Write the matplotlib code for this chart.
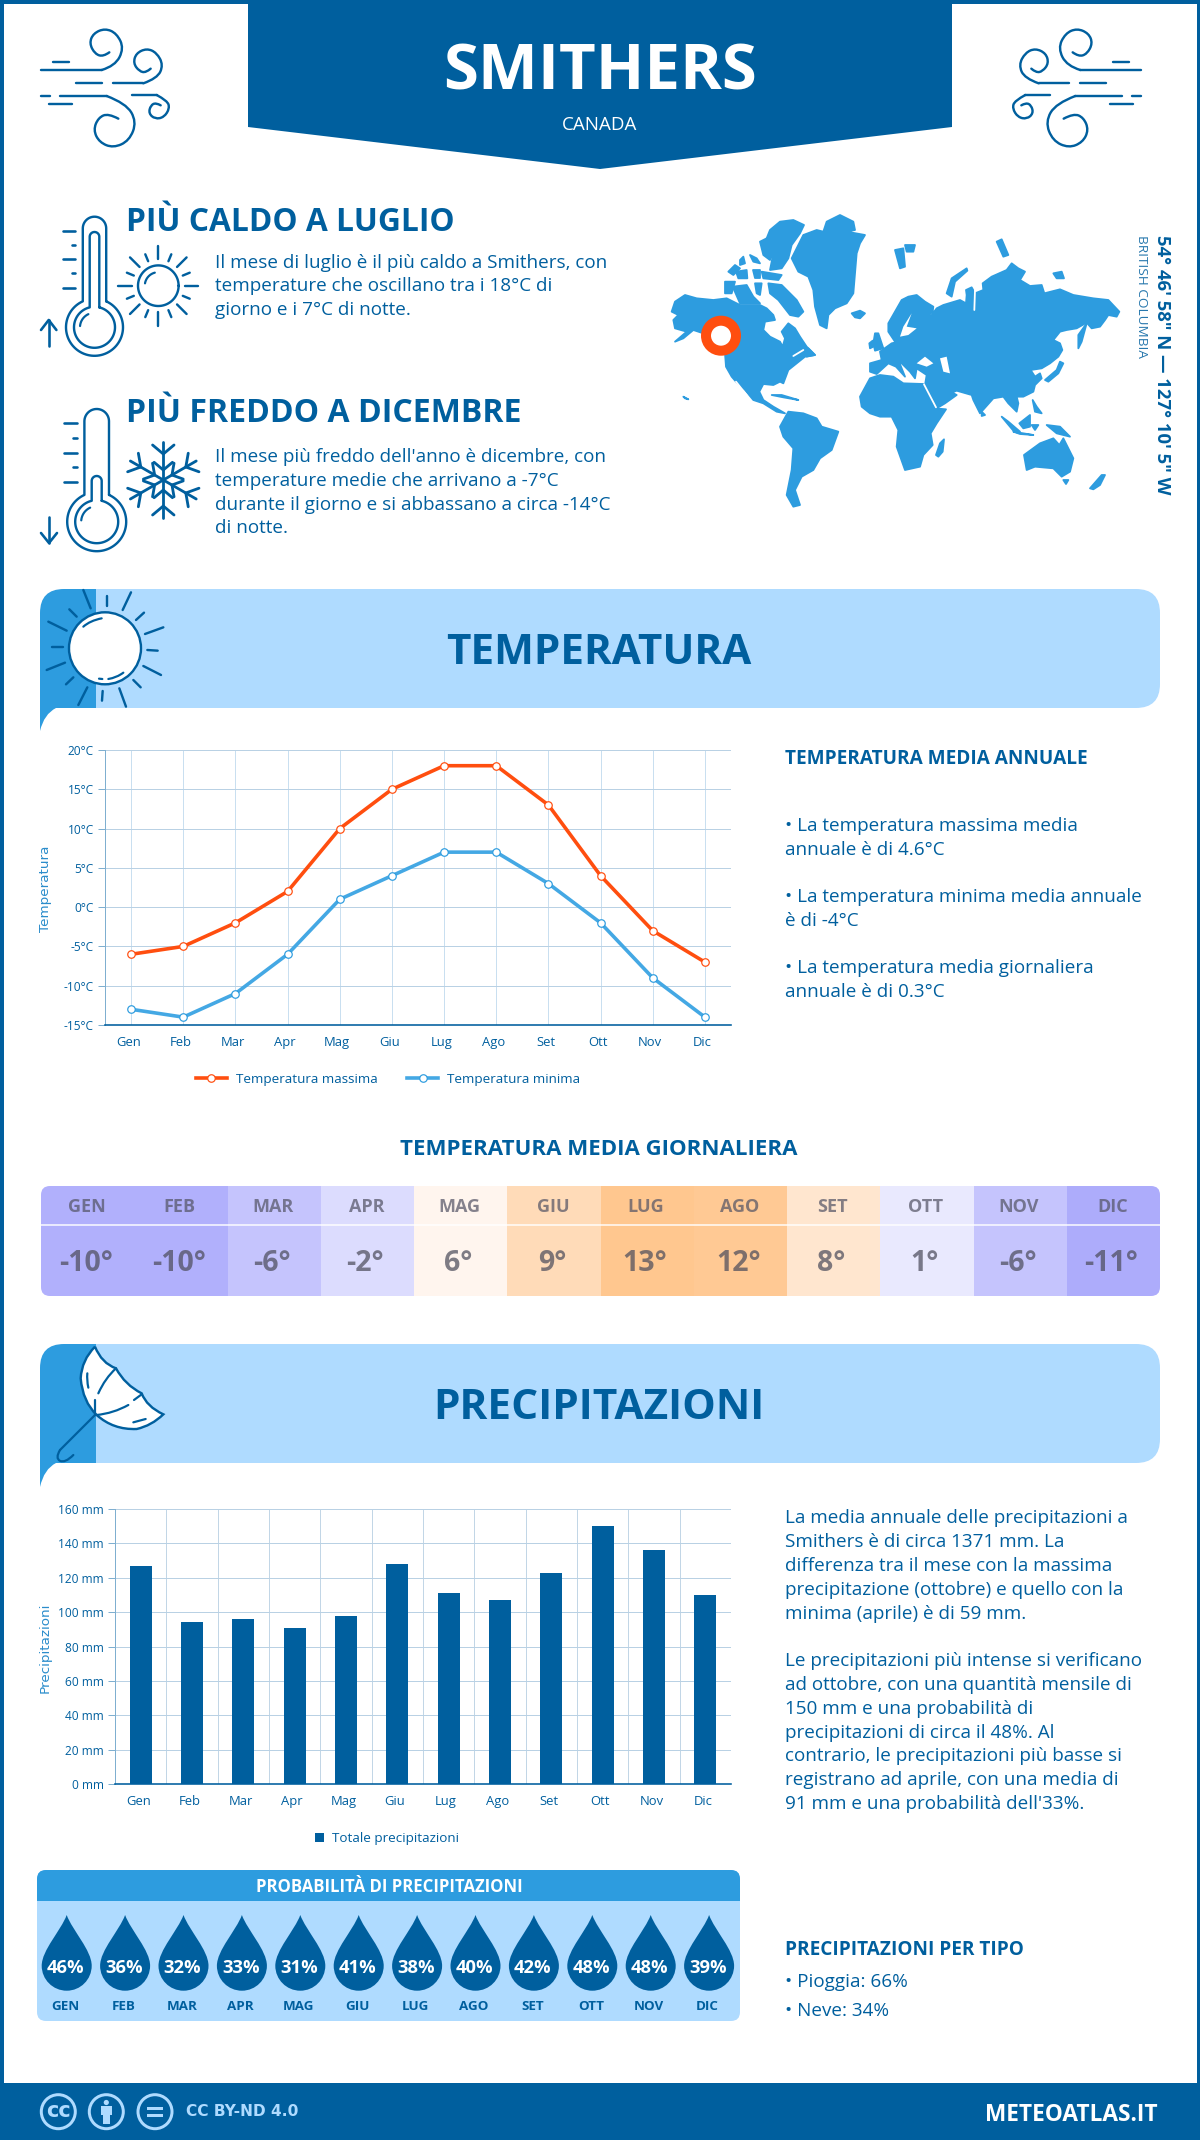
import numpy as np
import matplotlib
matplotlib.use('Agg')
import matplotlib.pyplot as plt
from matplotlib.patches import Rectangle, Circle, Polygon, FancyBboxPatch, PathPatch
from matplotlib.path import Path
from matplotlib.transforms import ScaledTranslation

plt.rcParams['font.family'] = ['Open Sans', 'DejaVu Sans']

# ---- data ----
months = ['Gen', 'Feb', 'Mar', 'Apr', 'Mag', 'Giu', 'Lug', 'Ago', 'Set', 'Ott', 'Nov', 'Dic']
months_up = ['GEN', 'FEB', 'MAR', 'APR', 'MAG', 'GIU', 'LUG', 'AGO', 'SET', 'OTT', 'NOV', 'DIC']
temp_max = [-6, -5, -2, 2, 10, 15, 18, 18, 13, 4, -3, -7]
temp_min = [-13, -14, -11, -6, 1, 4, 7, 7, 3, -2, -9, -14]
temp_avg = [-10, -10, -6, -2, 6, 9, 13, 12, 8, 1, -6, -11]
temp_cell_colors = ['#B1B0FC', '#B1B0FC', '#C5C4FD', '#DCDCFE', '#FFF5EE', '#FFDBB8',
                    '#FFC78F', '#FFC994', '#FFE6CF', '#E9E9FE', '#C5C4FD', '#ADACFB']
precip = [127, 94, 96, 91, 98, 128, 111, 107, 123, 150, 136, 110]
precip_prob = [46, 36, 32, 33, 31, 41, 38, 40, 42, 48, 48, 39]
temp_ticks = [-15, -10, -5, 0, 5, 10, 15, 20]
precip_ticks = [0, 20, 40, 60, 80, 100, 120, 140, 160]

DARK = '#005F9E'
MID = '#2D9CDF'
LIGHT = '#AFDBFF'
ORANGE = '#FF4E0F'
W, H = 1200, 2140
PX = 0.72
BODY = 13.55
HEAD = 13.7

fig = plt.figure(figsize=(12, 21.4), dpi=100, facecolor='white')
bg = fig.add_axes([0, 0, 1, 1], zorder=0)
bg.set_xlim(0, W)
bg.set_ylim(H, 0)
bg.axis('off')


def line(pts, lw=2.4, c=DARK, ax=bg, z=5):
    pts = np.asarray(pts, float)
    ax.plot(pts[:, 0], pts[:, 1], color=c, lw=lw * PX, solid_capstyle='round',
            solid_joinstyle='round', zorder=z)


def smooth(pts, lw=2.4, c=DARK, z=5, fill=None):
    pts = np.asarray(pts, float)
    verts = [pts[0]]
    codes = [Path.MOVETO]
    for i in range(1, len(pts) - 1):
        mid = (pts[i] + pts[i + 1]) / 2 if i < len(pts) - 2 else pts[i + 1]
        verts += [pts[i], mid]
        codes += [Path.CURVE3, Path.CURVE3]
    bg.add_patch(PathPatch(Path(verts, codes), fc=fill or 'none', ec=c, lw=lw * PX,
                           capstyle='round', joinstyle='round', zorder=z))


def T(x, y, s, size, weight='normal', c=DARK, ha='left', va='baseline', **kw):
    return bg.text(x, y, s, fontsize=size, fontweight=weight, color=c, ha=ha, va=va, zorder=8, **kw)


# ---- frame + header ----
bg.add_patch(Rectangle((0, 0), W, H, fc='none', ec=DARK, lw=7 * PX, zorder=1))
bg.add_patch(Polygon([(248, 0), (952, 0), (952, 127), (600, 169), (248, 127)], fc=DARK, ec='none', zorder=2))
T(600, 89, 'SMITHERS', 45.7, 'bold', 'white', ha='center')
T(600, 130, 'CANADA', 13.5, 'normal', 'white', ha='center')

# wind icons
wind_curves = [
    [(62, 180), (245, 180), (285, 168), (312, 115), (290, 70), (255, 55), (220, 70), (208, 100), (225, 132), (250, 140), (268, 127)],
    [(278, 220), (370, 220), (412, 205), (430, 165), (410, 128), (380, 115), (348, 130), (340, 160), (358, 184), (378, 188), (392, 176)],
    [(120, 258), (260, 258), (318, 280), (350, 335), (328, 392), (280, 414), (238, 397), (220, 360), (235, 323), (265, 310), (295, 326)],
    [(337, 255), (410, 255), (442, 272), (449, 295), (432, 322), (405, 327), (386, 310), (392, 286), (408, 278), (422, 286)],
]
wind_dashes = [[(98, 155), (148, 155)], [(168, 220), (245, 220)], [(62, 258), (90, 258)], [(86, 283), (155, 283)]]
for mirror in (False, True):
    def conv(p):
        x = 20 + p[0] / 3
        return ((1182 - x) if mirror else x, 10 + p[1] / 3)
    for cv in wind_curves:
        line([conv(p) for p in cv[:2]])
        smooth([conv(p) for p in cv[1:]])
    for d in wind_dashes:
        line([conv(p) for p in d])


# ---- thermometers ----
def thermometer(cx, top, cy, R, hw, top_i, r_i, hw_i, ticks, tx0, tx1):
    for (h, t, r) in ((hw, top, R), (hw_i, top_i, r_i)):
        a = np.arcsin(h / r)
        arc = np.linspace(-np.pi / 2 + a, 1.5 * np.pi - a, 80)
        bulb = np.c_[cx + r * np.cos(arc), cy + r * np.sin(arc)]
        cap = np.linspace(np.pi, 2 * np.pi, 30)
        tube = np.c_[cx + h * np.cos(cap), t + h + h * np.sin(cap)]
        line(np.r_[bulb, tube, bulb[:1]], 2.4)
    b = np.linspace(np.radians(185), np.radians(245), 20)
    rr = r_i - 6
    line(np.c_[cx + rr * np.cos(b), cy + rr * np.sin(b)], 2.2)
    for i, y in enumerate(ticks):
        line([(tx0 if i % 2 == 0 else tx0 + 9, y), (tx1, y)], 2.6)


thermometer(94.5, 216.7, 327.3, 28.5, 11.7, 232, 20.5, 4.8, [231, 245, 259.3, 273.3, 287.7], 63, 75)
thermometer(96.7, 409, 521.7, 29.5, 12.3, 476, 21.5, 5, [423.3, 438, 452.7, 467.3, 482.3], 63.5, 76.5)
line([(48.7, 346), (48.7, 320)], 2.6); line([(41, 330), (48.7, 320), (56.4, 330)], 2.6)
line([(49, 517), (49, 543)], 2.6); line([(41, 533), (49, 543), (57, 533)], 2.6)

# small sun
sx, sy = 158.3, 285.7
ang = np.linspace(0, 2 * np.pi, 90)
line(np.c_[sx + 20.3 * np.cos(ang), sy + 20.3 * np.sin(ang)], 2.4)
b = np.linspace(np.radians(190), np.radians(255), 20)
line(np.c_[sx + 13.5 * np.cos(b), sy + 13.5 * np.sin(b)], 2.2)
for k in range(16):
    a = k * np.pi / 8
    r0, r1 = (26.5, 40) if k % 2 == 0 else (26.5, 34)
    line([(sx + r0 * np.cos(a), sy + r0 * np.sin(a)), (sx + r1 * np.cos(a), sy + r1 * np.sin(a))], 2.4)

# snowflake
fx, fy = 163.3, 480
for k in range(6):
    a = np.pi / 2 + k * np.pi / 3
    u = np.array([np.cos(a), np.sin(a)])
    c0 = np.array([fx, fy])
    line([c0, c0 + 38 * u], 2.8)
    for rv, ln in ((26, 14), (10, 12)):
        base = c0 + rv * u
        for s in (-1, 1):
            v = np.array([np.cos(a + s * np.radians(50)), np.sin(a + s * np.radians(50))])
            line([base, base + ln * v], 2.8)

T(126, 231, 'PIÙ CALDO A LUGLIO', 22.9, 'bold')
T(126, 421.5, 'PIÙ FREDDO A DICEMBRE', 23, 'bold')
hot_lines = ['Il mese di luglio è il più caldo a Smithers, con',
             'temperature che oscillano tra i 18°C di',
             'giorno e i 7°C di notte.']
cold_lines = ['Il mese più freddo dell\'anno è dicembre, con',
              'temperature medie che arrivano a -7°C',
              'durante il giorno e si abbassano a circa -14°C',
              'di notte.']
for y, s in zip([268, 291, 315], hot_lines):
    T(215, y, s, BODY)
for y, s in zip([462.5, 486, 510, 533], cold_lines):
    T(215, y, s, BODY)


# ---- world map (hand traced outline) ----
def m1(p):
    return [(660 + x / 3, 200 + y / 3) for x, y in p]


def m2(p):
    return [(860 + x / 3, 200 + y / 3) for x, y in p]


west = [
    [(35,335),(45,305),(75,285),(110,295),(160,300),(200,295),(240,315),(300,315),(320,325),(340,345),(345,360),(315,365),(310,390),(330,410),(360,425),(368,440),(375,415),(365,395),(385,370),(405,385),(420,410),(440,440),(465,465),(435,470),(410,490),(385,510),(370,550),(360,545),(340,555),(310,552),(298,575),(310,600),(340,620),(375,640),(350,635),(310,610),(280,600),(255,570),(228,545),(215,530),(198,500),(195,460),(130,400),(100,390),(70,415),(45,425),(80,395),(45,385),(40,360),(55,345)],
    [(360,680),(385,635),(430,640),(470,655),(485,680),(535,695),(515,750),(480,775),(460,810),(425,830),(405,870),(420,915),(400,920),(380,885),(395,810),(400,745),(370,710)],
    [(395,175),(430,105),(470,90),(490,95),(500,65),(540,45),(580,65),(585,90),(560,95),(615,105),(600,130),(590,160),(585,220),(580,280),(560,310),(525,325),(505,345),(500,385),(480,375),(465,320),(460,270),(445,230),(415,215)],
    [(320,115),(330,90),(360,65),(400,60),(432,75),(420,100),(395,135),(385,175),(365,205),(330,210),(340,160),(325,135)],
    [(325,250),(365,255),(410,300),(430,335),(415,350),(390,345),(355,300),(330,280)],
    [(218,260),(260,255),(280,290),(300,310),(240,310)],
    [(195,245),(225,245),(215,280),(195,280)],
    [(205,215),(225,195),(240,205),(220,225)],
    [(228,215),(260,210),(262,235),(235,235)],
    [(280,210),(300,210),(300,235),(285,235)],
    [(305,215),(365,225),(355,240),(310,235)],
    [(300,125),(320,115),(340,160),(330,180),(310,165)],
    [(240,180),(250,170),(255,190),(240,195)],
    [(270,165),(290,175),(300,190),(280,185)],
    [(285,250),(305,250),(300,285),(290,280)],
    [(425,455),(445,445),(465,465),(440,470)],
    [(335,585),(365,585),(415,600),(370,592)],
    [(575,340),(600,332),(615,340),(600,355),(585,352)],
    [(70,590),(85,598),(75,595)],
]
east = [
    [(30,490),(65,480),(60,455),(95,430),(115,425),(130,405),(170,390),(145,385),(135,420),(105,425),(85,395),(85,370),(125,300),(145,290),(170,285),(195,305),(220,320),(218,335),(200,348),(215,345),(230,325),(250,315),(300,300),(318,310),(320,285),(318,270),(335,262),(345,280),(370,270),(368,250),(395,230),(440,210),(455,190),(475,205),(495,215),(480,240),(510,258),(545,255),(553,280),(600,268),(640,285),(700,295),(745,300),(778,335),(770,350),(745,345),(735,360),(720,380),(695,385),(680,368),(650,385),(620,390),(600,395),(580,420),(600,430),(607,450),(595,470),(570,490),(545,505),(512,510),(525,530),(540,520),(545,535),(525,555),(520,575),(490,590),(470,590),(475,610),(470,635),(445,610),(430,590),(400,595),(360,640),(340,600),(335,585),(290,572),(270,580),(250,560),(245,553),(262,570),(290,585),(255,610),(230,625),(195,555),(200,525),(170,505),(165,535),(150,515),(115,480),(135,530),(108,500),(85,490),(50,522),(30,515)],
    [(0,590),(30,535),(60,525),(100,530),(130,550),(190,552),(225,625),(258,628),(230,670),(212,700),(218,735),(190,765),(180,800),(135,810),(110,740),(115,690),(95,650),(60,650),(30,640),(5,620)],
    [(492,765),(540,730),(580,715),(598,735),(610,715),(640,775),(630,815),(605,830),(580,805),(525,800),(500,810)],
    [(610,840),(625,840),(618,852)],
    [(690,865),(725,825),(735,825),(720,855),(700,868)],
    [(228,765),(240,730),(252,718),(248,755),(235,770)],
    [(45,400),(55,400),(70,445),(45,452),(40,430)],
    [(28,430),(38,422),(40,440),(30,445)],
    [(105,150),(130,145),(135,200),(120,205)],
    [(135,135),(165,135),(160,155),(140,155)],
    [(260,280),(275,235),(320,205),(322,212),(285,245),(275,290)],
    [(410,125),(425,118),(445,165),(430,170)],
    [(580,220),(605,215),(612,235),(590,235)],
    [(425,650),(445,665),(480,695),(460,692)],
    [(460,695),(520,705),(480,702)],
    [(478,670),(510,645),(510,680),(490,685)],
    [(518,600),(530,620),(545,640),(525,635)],
    [(515,675),(535,675),(525,690)],
    [(560,675),(600,680),(630,710),(590,700)],
    [(365,635),(375,645),(365,648)],
    [(555,540),(590,510),(600,485),(610,490),(595,520),(565,545)],
    [(655,405),(680,370),(665,425),(655,445)],
]
white_seas = [
    [(170,490),(195,470),(220,490),(200,500)],
    [(240,475),(260,470),(270,520),(250,515)],
    [(155,340),(130,380),(120,410),(145,405),(170,385),(140,380)],
]
white_lines_east = [[(192,553),(228,622)], [(345,270),(343,330)]]
white_lines_west = [[(228,545),(262,588)], [(400,468),(430,450)]]
for p in west:
    bg.add_patch(Polygon(m1(p), fc=MID, ec=MID, lw=1.3, joinstyle='round', zorder=3))
for p in east:
    bg.add_patch(Polygon(m2(p), fc=MID, ec=MID, lw=1.3, joinstyle='round', zorder=3))
for p in white_seas:
    bg.add_patch(Polygon(m2(p), fc='white', ec='none', zorder=3.2))
for p in white_lines_east:
    line(m2(p), 1.8, 'white', z=3.3)
for p in white_lines_west:
    line(m1(p), 1.8, 'white', z=3.3)
bg.add_patch(Circle((721, 335.7), 15, fc='white', ec=ORANGE, lw=10 * PX, zorder=4))

T(1162, 365, '54° 46\' 58" N — 127° 10\' 5" W', 13.3, 'bold', ha='center', va='center', rotation=-90)
T(1142, 296.7, 'BRITISH COLUMBIA', 9.7, 'normal', ha='center', va='center', rotation=-90, alpha=0.85)


# ---- section banners ----
def banner(y0, y1, yc, ybase, title, title_size):
    bg.add_patch(FancyBboxPatch((70, y0), 1090, y1 - y0, boxstyle='round,pad=0,rounding_size=24',
                                fc=LIGHT, ec='none', zorder=2))
    v = [(40, yc), (44, y1 + 6), (56, y1), (75, y1), (96, y1), (96, y0), (64, y0), (40, y0), (40, y0 + 24), (40, yc)]
    c = [Path.MOVETO, Path.CURVE3, Path.CURVE3, Path.LINETO, Path.LINETO, Path.LINETO, Path.LINETO,
         Path.CURVE3, Path.CURVE3, Path.CLOSEPOLY]
    bg.add_patch(PathPatch(Path(v, c), fc=MID, ec='none', zorder=2.5))
    T(599, ybase, title, title_size, 'bold', ha='center')


banner(589, 708, 731, 663.5, 'TEMPERATURA', 30.4)
banner(1344, 1463, 1487, 1419.4, 'PRECIPITAZIONI', 30.5)


def z7(p):
    return [(30 + x / 3, 580 + y / 3) for x, y in p]


bg.add_patch(Circle((105, 648.3), 36, fc='white', ec=DARK, lw=2.4 * PX, zorder=4))
sun_rays = [[(160,30),(182,85)],[(230,47),(230,78)],[(303,37),(278,90)],[(342,98),(318,120)],[(400,142),(345,162)],[(352,210),(383,212)],[(340,258),(393,285)],[(310,300),(332,322)],[(268,325),(288,380)],[(218,333),(216,362)],[(172,322),(145,375)],[(130,292),(108,313)],[(105,248),(50,270)],[(98,200),(67,200)],[(110,152),(55,125)],[(140,110),(118,88)]]
for r in sun_rays:
    line(z7(r), 2.4)
smooth(z7([(160,140),(180,122),(215,115)]), 2.2)
smooth(z7([(235,297),(260,293),(280,278)]), 2.2)
line(z7([(207,296),(217,297)]), 2.2)


def z8(p):
    return [(30 + x / 3, 1335 + y / 3) for x, y in p]


umb_pts = z8([(195,35),(215,85),(258,100),(285,150),(335,175),(350,215),(400,238),
              (365,272),(320,282),(250,285),(200,240),(158,200),(152,130),(155,75),(195,35)])
umb_codes = [Path.MOVETO] + [Path.CURVE3] * 14
bg.add_patch(PathPatch(Path(umb_pts, umb_codes), fc='white', ec=DARK, lw=2.4 * PX, zorder=4))
smooth(z8([(205,175),(225,130),(258,100)]), 2.2)
smooth(z8([(200,240),(250,235),(295,210)]), 2.2)
line(z8([(195,240),(195,195)]), 2.2)
line(z8([(312,195),(335,178)]), 2.2)
smooth(z8([(172,115),(170,135),(175,158)]), 2.2)
line(z8([(310,262),(347,252)]), 2.2)
line(z8([(195,240),(90,345)]), 2.2)
smooth(z8([(90,345),(75,370),(105,385),(130,360)]), 2.2)


# ---- temperature chart ----
def ax_px(x0, y0, x1, y1):
    a = fig.add_axes([x0 / W, 1 - y1 / H, (x1 - x0) / W, (y1 - y0) / H], zorder=3)
    a.patch.set_alpha(0)
    return a


GRID = '#B9D1E4'
ax1 = ax_px(105, 750, 731, 1025)
x = np.arange(12)
ax1.plot(x, temp_max, color=ORANGE, lw=3.6 * PX, marker='o', ms=7.5 * PX, mfc='white', mec=ORANGE, mew=1.2 * PX, label='Temperatura massima', zorder=4)
ax1.plot(x, temp_min, color='#44A8E4', lw=3.6 * PX, marker='o', ms=7.5 * PX, mfc='white', mec='#2D9CDF', mew=1.2 * PX, label='Temperatura minima', zorder=3)
ax1.set_xlim(-0.5, 11.5)
ax1.set_ylim(-15, 20)
ax1.set_xticks(x, months)
ax1.set_yticks(temp_ticks, [f'{v}°C' for v in temp_ticks])
ax1.set_axisbelow(True)
ax1.grid(axis='y', color=GRID, lw=1 * PX)
ax1.grid(axis='x', color='#C9DFF0', lw=1 * PX)
ax1.set_ylabel('Temperatura', fontsize=9.7, color='#2A8CCB', family='DejaVu Sans', va='center')
ax1.yaxis.set_label_coords(45 / W, 1 - 889 / H, transform=fig.transFigure)

ax2 = ax_px(115, 1509, 731, 1784)
ax2.bar(np.arange(12), precip, width=22 / 51.33, color=DARK, label='Totale precipitazioni', zorder=3)
ax2.set_xlim(-0.5, 11.5)
ax2.set_ylim(0, 160)
ax2.set_xticks(np.arange(12), months)
ax2.set_yticks(precip_ticks, [f'{v} mm' for v in precip_ticks])
ax2.set_xticks(np.arange(-0.5, 12, 1), minor=True)
ax2.set_axisbelow(True)
ax2.grid(axis='y', color=GRID, lw=1 * PX)
ax2.grid(axis='x', which='minor', color='#C2D6E6', lw=1 * PX)
ax2.grid(axis='x', which='major', visible=False)
ax2.tick_params(axis='x', which='minor', length=0)
ax2.set_ylabel('Precipitazioni', fontsize=9.7, color='#2A8CCB', family='DejaVu Sans', va='center')
ax2.yaxis.set_label_coords(45 / W, 1 - 1648 / H, transform=fig.transFigure)

for a in (ax1, ax2):
    for s in ('top', 'right'):
        a.spines[s].set_visible(False)
    a.spines['bottom'].set_color(DARK)
    a.spines['bottom'].set_linewidth(1.6 * PX)
    a.spines['left'].set_color('#7FAFD0')
    a.spines['left'].set_linewidth(1 * PX)
    a.tick_params(axis='y', length=5, width=1 * PX, color='#7FAFD0', labelsize=8.6, labelcolor=DARK, pad=3)
    a.tick_params(axis='x', which='major', length=0, labelsize=9.4, labelcolor=DARK, pad=8)
    off = ScaledTranslation(-2.5 / 100, 0, fig.dpi_scale_trans)
    for t in a.get_xticklabels():
        t.set_transform(t.get_transform() + off)

leg_kw = dict(frameon=False, loc='center', bbox_transform=fig.transFigure, fontsize=9.7, labelcolor=DARK)
ax1.legend(bbox_to_anchor=(388 / W, 1 - 1079.5 / H), ncol=2, handlelength=2.3, handletextpad=0.65,
           columnspacing=2.2, **leg_kw)
ax2.legend(bbox_to_anchor=(387 / W, 1 - 1838.5 / H), handlelength=0.6, handleheight=0.6, handletextpad=0.6, **leg_kw)

# ---- right column: temperature text ----
T(785, 764, 'TEMPERATURA MEDIA ANNUALE', HEAD, 'bold')
bullets = [(831, '• La temperatura massima media'), (855, 'annuale è di 4.6°C'),
           (902, '• La temperatura minima media annuale'), (926, 'è di -4°C'),
           (973, '• La temperatura media giornaliera'), (997, 'annuale è di 0.3°C')]
for y, s in bullets:
    T(785, y, s, BODY)

T(598.5, 1155, 'TEMPERATURA MEDIA GIORNALIERA', 16.0, 'bold', ha='center')

# ---- daily temperature table ----
clip = FancyBboxPatch((41, 1186), 1119, 110, boxstyle='round,pad=0,rounding_size=9', fc='none', ec='none', zorder=2)
bg.add_patch(clip)
cw = 1119 / 12
for i, (m, v, col) in enumerate(zip(months_up, temp_avg, temp_cell_colors)):
    r = Rectangle((41 + i * cw, 1186), cw + 0.5, 110, fc=col, ec='none', zorder=3)
    bg.add_patch(r)
    r.set_clip_path(clip)
    T(41 + (i + 0.5) * cw - 1, 1212, m, 13, 'bold', c='#555566', ha='center', alpha=0.72)
    T(41 + (i + 0.5) * cw - 2, 1271, f'{v}°', 20.5, 'bold', c='#4d4d5c', ha='center', alpha=0.72)
bg.plot([41, 1160], [1225, 1225], color='white', lw=1.6 * PX, zorder=4, alpha=0.9)

# ---- precipitation text ----
para = [(1523, 'La media annuale delle precipitazioni a'), (1547, 'Smithers è di circa 1371 mm. La'),
        (1571, 'differenza tra il mese con la massima'), (1595, 'precipitazione (ottobre) e quello con la'),
        (1619, 'minima (aprile) è di 59 mm.'),
        (1666, 'Le precipitazioni più intense si verificano'), (1690, 'ad ottobre, con una quantità mensile di'),
        (1714, '150 mm e una probabilità di'), (1738, 'precipitazioni di circa il 48%. Al'),
        (1761, 'contrario, le precipitazioni più basse si'), (1785, 'registrano ad aprile, con una media di'),
        (1809, '91 mm e una probabilità dell\'33%.')]
for y, s in para:
    T(785, y, s, BODY)

T(785, 1955, 'PRECIPITAZIONI PER TIPO', HEAD, 'bold')
T(785, 1987, '• Pioggia: 66%', BODY)
T(785, 2016, '• Neve: 34%', BODY)

# ---- probability panel ----
pclip = FancyBboxPatch((37, 1870), 703, 151, boxstyle='round,pad=0,rounding_size=9', fc=LIGHT, ec='none', zorder=2)
bg.add_patch(pclip)
hdr = Rectangle((37, 1870), 703, 31, fc=MID, ec='none', zorder=3)
bg.add_patch(hdr)
hdr.set_clip_path(pclip)
T(389.5, 1892.5, 'PROBABILITÀ DI PRECIPITAZIONI', 12.1, 'bold', 'white', ha='center')


def drop(cx, top, bottom, R):
    cy = bottom - R
    k = 0.5523 * R
    v = [(cx, top), (cx + 0.22 * R, top + 0.30 * (cy - top)), (cx + R, cy - 0.62 * R), (cx + R, cy),
         (cx + R, cy + k), (cx + k, bottom), (cx, bottom),
         (cx - k, bottom), (cx - R, cy + k), (cx - R, cy),
         (cx - R, cy - 0.62 * R), (cx - 0.22 * R, top + 0.30 * (cy - top)), (cx, top), (cx, top)]
    c = [Path.MOVETO] + [Path.CURVE4] * 12 + [Path.CLOSEPOLY]
    bg.add_patch(PathPatch(Path(v, c), fc=DARK, ec='none', zorder=4))


for i, (m, p) in enumerate(zip(months_up, precip_prob)):
    cx = 66.7 + i * 58.4
    drop(cx, 1915, 1990.7, 25)
    T(cx - 1, 1973, f'{p}%', 13.2, 'bold', 'white', ha='center')
    T(cx - 1.5, 2009.5, m, 9.6, 'bold', ha='center')

# ---- footer ----
bg.add_patch(Rectangle((0, 2083), W, 57, fc=DARK, ec='none', zorder=2))
FOOT = '#AFDBFF'
for cx in (58.3, 106.3, 155):
    bg.add_patch(Circle((cx, 2111.7), 17, fc='none', ec=FOOT, lw=3 * PX, zorder=4))
T(58.3, 2111, 'cc', 15, 'bold', FOOT, ha='center', va='center', family='DejaVu Sans')
bg.add_patch(Circle((106.3, 2102.5), 2.6, fc=FOOT, ec='none', zorder=5))
bg.add_patch(Polygon([(100.5, 2106), (112, 2106), (112, 2115), (109.5, 2115), (109.5, 2124), (103, 2124), (103, 2115), (100.5, 2115)],
                     fc=FOOT, ec='none', zorder=5))
bg.add_patch(Rectangle((147, 2106.5), 16, 3, fc=FOOT, ec='none', zorder=5))
bg.add_patch(Rectangle((147, 2113.5), 16, 3, fc=FOOT, ec='none', zorder=5))
T(186, 2112, 'CC BY-ND 4.0', 11.1, 'bold', FOOT, va='center', family='DejaVu Sans')
T(1158, 2121, 'METEOATLAS.IT', 16.3, 'bold', 'white', ha='right')

fig.savefig('out.png', dpi=100, facecolor='white')
